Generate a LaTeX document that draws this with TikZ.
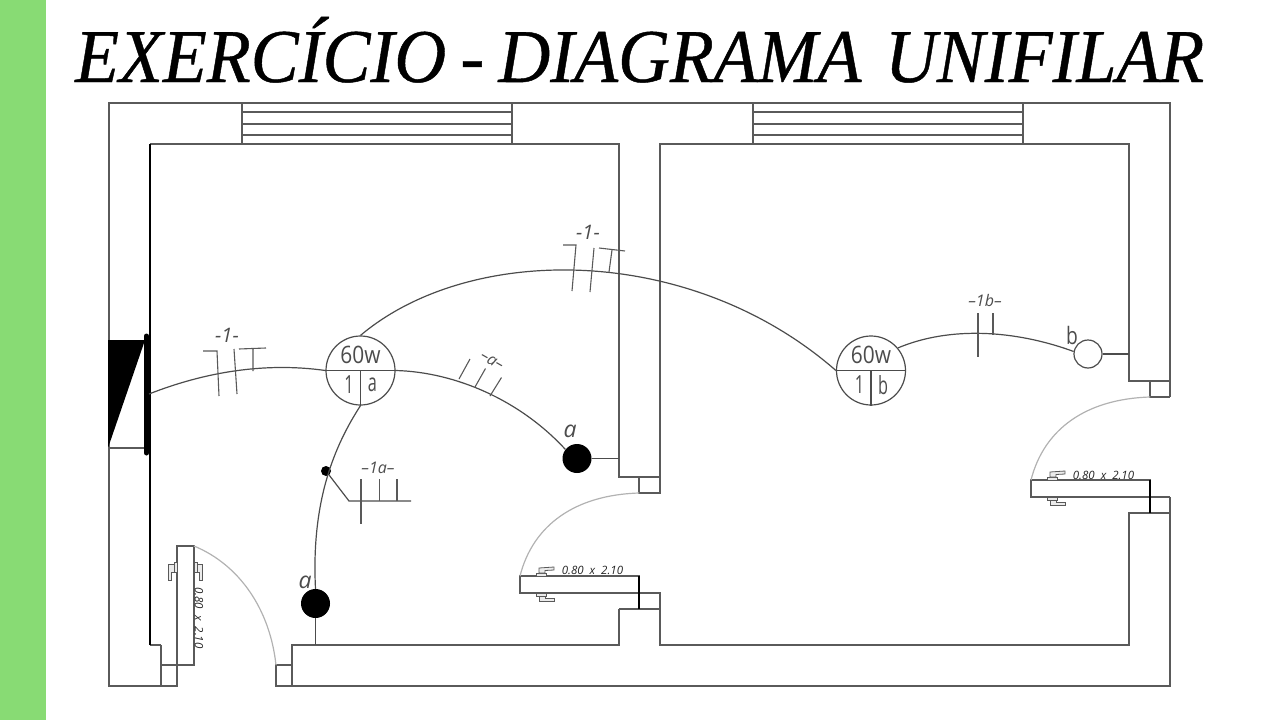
\documentclass[tikz,border=0pt]{standalone}
\usepackage{fontspec}
\setmainfont{Liberation Serif}
\newfontfamily\titulofont[ItalicFeatures={FakeBold=0.6}]{Liberation Serif}
\newfontfamily\cadfont{Open Sans}
\usepackage{tikz}
\definecolor{barra}{HTML}{88DB74}
\definecolor{parede}{HTML}{5A5A5A}
\tikzset{
  wall/.style={line width=1.2pt,parede},
  inner wall/.style={line width=1.1pt,black},
  swing/.style={line width=1.2pt,black!30},
  hardware/.style={line width=.8pt,black!65,fill=black!8},
  wire/.style={line width=1.2pt,black!70},
  tick/.style={line width=1.1pt,black!65},
  cad/.style={inner sep=0pt,font=\cadfont,text=black!70},
  doortag/.style={cad,text=black!85,font=\cadfont\itshape\fontsize{11.5}{12}\selectfont},
  circtag/.style={cad,font=\cadfont\itshape\fontsize{16}{18}\selectfont},
  wirenum/.style={cad,font=\cadfont\itshape\fontsize{20}{22}\selectfont},
  lamppot/.style={cad,font=\cadfont\fontsize{24}{26}\selectfont,xscale=.87},
  lampid/.style={cad,font=\cadfont\fontsize{25}{26}\selectfont,xscale=.65},
  swlabel/.style={cad,font=\cadfont\itshape\fontsize{23}{24}\selectfont},
  lamp/.style={circle,draw=black!70,line width=1.2pt,minimum size=69pt,inner sep=0pt},
  switchon/.style={circle,fill=black,minimum size=29pt,inner sep=0pt},
  switchoff/.style={circle,draw=black!70,line width=1.2pt,minimum size=28pt,inner sep=0pt},
}
\begin{document}
\begin{tikzpicture}[x=1pt,y=-1pt]
\useasboundingbox (0,0) rectangle (1280,720);
\fill[barra] (0,0) rectangle (46,720);
\node[anchor=base west,inner sep=0pt,font=\titulofont\fontsize{76}{80}\selectfont\itshape,xscale=.945] (titulo) at (75,82) {EXERCÍCIO\kern-4pt\ -\ \kern-4pt DIAGRAMA\ \kern6pt UNIFILAR};

% outer walls
\draw[wall] (161,686)--(109,686)--(109,103)--(1170,103)--(1170,397);
\draw[wall] (292,686)--(1170,686)--(1170,497);
\draw[wall] (161,645)--(161,686)--(177,686)--(177,665);
\draw[wall] (161,665)--(177,665);
\draw[wall] (276,686)--(276,665)--(292,665)--(292,686)--cycle;
\draw[wall] (292,665)--(292,645)--(619,645)--(619,609);
% inner walls
\draw[wall] (150,645)--(161,645);
\draw[wall] (150,144)--(619,144)--(619,477)--(660,477)--(660,144)--(1129,144)--(1129,381)--(1170,381);
\draw[inner wall] (150,645)--(150,144);
\draw[wall] (639,477)--(639,493)--(660,493)--(660,477);
\draw[wall] (1150,381)--(1150,397)--(1170,397);
\draw[wall] (619,609)--(660,609);
\draw[wall] (639,593)--(660,593)--(660,645)--(1129,645)--(1129,513)--(1170,513);
\draw[wall] (1150,497)--(1170,497);
% windows
\draw[wall] (242,103)--(242,144) (512,103)--(512,144);
\draw[wall] (242,112)--(512,112) (242,124)--(512,124) (242,135)--(512,135);
\draw[wall] (753,103)--(753,144) (1023,103)--(1023,144);
\draw[wall] (753,112)--(1023,112) (753,124)--(1023,124) (753,135)--(1023,135);

% door bottom left
\draw[wall] (177,546) rectangle (194,665);
\draw[swing] (194,546) .. controls (240,565) and (270,610) .. (276,665);
\draw[hardware] (174,562) rectangle (177,572);
\draw[hardware] (168,564.5)--(174,564.5)--(174,572)--(171.5,572)--(171.5,580)--(168,580)--cycle;
\draw[hardware] (194,562) rectangle (197,572);
\draw[hardware] (197,564.5)--(202.5,564.5)--(202.5,580)--(199.5,580)--(199.5,572)--(197,572)--cycle;
\node[doortag,rotate=-90] (portaa) at (199,618) {0.80\ \ x\ \ 2.10};

% door middle
\begin{scope}
\draw[wall] (520,576) rectangle (639,593);
\draw[inner wall] (639,576)--(639,609);
\draw[swing] (639,493) .. controls (575,495) and (533,525) .. (520,576);
\draw[hardware] (536,573) rectangle (546,576);
\draw[hardware] (539,573)--(539,568)--(554,567)--(554,570)--(545,570.5)--(545,573)--cycle;
\draw[hardware] (536,593) rectangle (546,596);
\draw[hardware] (539,596)--(539,601)--(554,601)--(554,598)--(545,598)--(545,596)--cycle;
\node[doortag] (portab) at (592.5,570) {0.80\ \ x\ \ 2.10};
\end{scope}

% door right
\begin{scope}[shift={(511,-96)}]
\draw[wall] (520,576) rectangle (639,593);
\draw[inner wall] (639,576)--(639,609);
\draw[swing] (639,493) .. controls (575,495) and (533,525) .. (520,576);
\draw[hardware] (536,573) rectangle (546,576);
\draw[hardware] (539,573)--(539,568)--(554,567)--(554,570)--(545,570.5)--(545,573)--cycle;
\draw[hardware] (536,593) rectangle (546,596);
\draw[hardware] (539,596)--(539,601)--(554,601)--(554,598)--(545,598)--(545,596)--cycle;
\node[doortag] (portac) at (592.5,571) {0.80\ \ x\ \ 2.10};
\end{scope}

% panel
\fill (108,340)--(145,340)--(108,448)--cycle;
\draw[wall] (108,448)--(145,448);
\draw[line width=5pt,line cap=round] (146.5,336)--(146.5,453);
\coordinate (qd) at (149,394);

% lamps
\node[lamp] (lampa) at (360.5,370.5) {};
\draw[wire] (lampa.west)--(lampa.east) (lampa.center)--(lampa.south);
\node[lamppot] (pota) at (360.5,354.5) {60w};
\node[lampid] (cira) at (349,385) {1};
\node[lampid] (leta) at (372.5,385) {a};
\node[lamp] (lampb) at (871,370.5) {};
\draw[wire] (lampb.west)--(lampb.east) (lampb.center)--(lampb.south);
\node[lamppot] (potb) at (871,354.5) {60w};
\node[lampid] (cirb) at (859.5,385) {1};
\node[lampid] (letb) at (883,385) {b};

% switches
\node[switchon] (swa) at (577,458.5) {};
\node[switchon] (swc) at (315.5,603.5) {};
\node[switchoff] (swb) at (1088,354) {};
\node[circle,fill=black,minimum size=10pt,inner sep=0pt] (tee) at (326,471) {};
\coordinate (wa) at (619,458.5);
\coordinate (wc) at (315.5,645);
\coordinate (wb) at (1129,354);
\draw[wire] (swa)--(wa);
\draw[wire] (swc)--(wc);
\draw[wire] (swb)--(wb);
\node[swlabel] (ra) at (570,431) {a};
\node[swlabel] (rc) at (305,582) {a};
\node[cad,font=\cadfont\fontsize{24}{26}\selectfont,xscale=.8] (rb) at (1072,335) {b};

% wires
\draw[wire] (qd) .. controls (205,372) and (265,362) .. (lampa.west);
\draw[wire] (lampa.north) .. controls (470,243) and (690,243) .. (lampb.west);
\draw[wire] (lampa.east) .. controls (455,372) and (520,400) .. (swa.142);
\draw[wire] (lampa.south) .. controls (335,445) and (311,500) .. (swc.north);
\draw[wire] (lampb.40) .. controls (950,326) and (1015,330) .. (swb.170);
\coordinate (ct) at (349,501);
\coordinate (cu) at (411,501);
\draw[wire] (tee)--(ct)--(cu);

% ticks and circuit tags
\draw[tick] (203,351)--(217,351)--(219,396);
\draw[tick] (234,349)--(237,394);
\draw[tick] (239,349)--(266,348) (253,348)--(253,371);
\node[wirenum] (cca) at (227,335) {-1-};
\draw[tick] (563,245)--(576,245)--(572,291);
\draw[tick] (594,248)--(590,292);
\draw[tick] (599,248)--(625,251) (612,250)--(609,272);
\node[wirenum] (ccb) at (588,232) {-1-};
\draw[tick] (459,379)--(470,359) (475,387)--(485.5,368.5) (490,396)--(501.5,377.5);
\node[circtag,rotate=-30] (ccc) at (492,361) {–a–};
\draw[tick] (361,479)--(361,524) (379.5,479)--(379.5,501) (397,479)--(397,501);
\node[circtag] (ccd) at (378,468) {–1a–};
\draw[tick] (978,313)--(978,357) (993,313)--(993,335);
\node[circtag] (cce) at (985,300) {–1b–};
\end{tikzpicture}
\end{document}
